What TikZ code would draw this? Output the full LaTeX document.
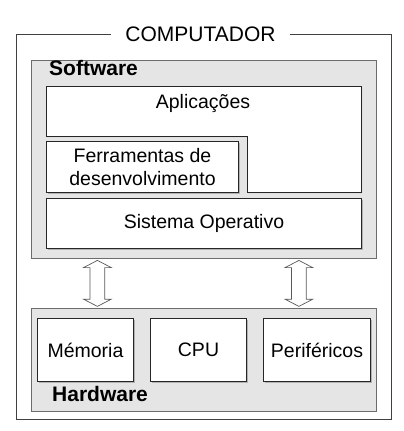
\documentclass[tikz,border=0pt]{standalone}
\usepackage{fontspec}
\setmainfont{Liberation Sans}
\usetikzlibrary{shapes.arrows,calc,shadows}

\tikzset{
  layer/.style={draw=gray!85!black, fill=gray!20, line width=0.8pt, inner sep=0pt, anchor=north west,
    drop shadow={shadow xshift=1pt, shadow yshift=-1pt, fill=gray!60, opacity=1}},
  part/.style={draw=black!85, fill=white, line width=1pt, align=center, inner sep=0pt,
    font=\fontsize{19.5}{23}\selectfont,
    drop shadow={shadow xshift=1pt, shadow yshift=-1pt, fill=gray!60, opacity=1}},
  tag/.style={font=\bfseries\fontsize{21}{25}\selectfont, inner sep=0pt, anchor=west},
  twoway/.style={draw=black!65, fill=white, line width=0.7pt, shape=double arrow, rotate=90,
    minimum height=46pt, inner sep=0pt, inner ysep=7pt,
    double arrow head extend=6.5pt, double arrow tip angle=125}
}

\begin{document}
\begin{tikzpicture}[x=1pt,y=-1pt]
 \useasboundingbox (0,0) rectangle (404,431);

 % moldura exterior
 \draw[black!75, line width=0.8pt] (16,34) rectangle (391,419);
 \node[fill=white, inner xsep=14pt, inner ysep=2pt, font=\fontsize{21}{25}\selectfont]
   (comp) at (200.5,34) {COMPUTADOR};

 % camada de software
 \node[layer, minimum width=345pt, minimum height=198pt] (sw) at (31,60) {};
 \node[tag] (swtag) at (49,67.5) {Software};

 \draw[part, line join=miter] (46,86) -- (361,86) -- (361,192) -- (247,192) -- (247,136) -- (46,136) -- cycle;
 \node[font=\fontsize{19.5}{23}\selectfont] (apl) at (203,103) {Aplica\c{c}\~oes};

 \node[part, anchor=north west, minimum width=192pt, minimum height=51pt]
   (ferr) at (46,141) {Ferramentas de\\desenvolvimento};
 \node[part, anchor=north west, minimum width=315pt, minimum height=50pt]
   (so) at (46,198) {Sistema Operativo};

 % camada de hardware
 \node[layer, minimum width=345pt, minimum height=103pt] (hw) at (31,308) {};
 \node[part, anchor=north west, minimum width=96pt, minimum height=63pt]
   (mem) at (37,318) {M\'emoria};
 \node[part, anchor=north west, minimum width=96pt, minimum height=63pt]
   (cpu) at (150,318) {CPU};
 \node[part, anchor=north west, minimum width=107pt, minimum height=63pt]
   (per) at (263,318) {Perif\'ericos};
 \node[tag] (hwtag) at (52,393.7) {Hardware};

 % setas entre camadas
 \node[twoway] (ar1) at ($(sw.south)!0.5!(hw.north) + (-106.5,0)$) {};
 \node[twoway] (ar2) at ($(sw.south)!0.5!(hw.north) + (95,0)$) {};

\end{tikzpicture}
\end{document}
